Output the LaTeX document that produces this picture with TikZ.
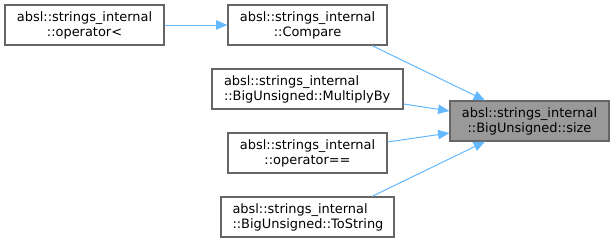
\documentclass[tikz,border=0pt]{standalone}
\usepackage{fontspec}
\setmainfont{DejaVu Sans}
\usetikzlibrary{arrows.meta,calc}
\definecolor{edgeblue}{HTML}{63B8FF}
\definecolor{boxline}{HTML}{666666}
\definecolor{curfill}{HTML}{999999}
\begin{document}
\begin{tikzpicture}[x=0.75pt,y=-0.75pt,
  fn/.style={draw=boxline,line width=0.9pt,fill=white,rectangle,inner sep=0pt,
    minimum height=30pt,align=center,font=\fontsize{9.7}{11.25}\selectfont},
  fnl/.style={fn,align=left,inner xsep=#1},
  cur/.style={fn,fill=curfill},
  call/.style={draw=edgeblue,line width=0.75pt,-{Triangle[length=8.5pt,width=7pt]}}]
\useasboundingbox (0,0) rectangle (615,243);
\node[fn,minimum width=119.25pt] (opl) at (84.5,25) {absl::strings\_internal\\::operator<};
\node[fn,minimum width=119.25pt] (cmp) at (307.5,25) {absl::strings\_internal\\::Compare};
\node[fnl=9pt,text width=125.25pt] (mul) at (307.5,89) {absl::strings\_internal\\::BigUnsigned::MultiplyBy};
\node[fn,minimum width=119.25pt] (eq) at (307.5,153) {absl::strings\_internal\\::operator==};
\node[fnl=8.6pt,text width=112.5pt] (tos) at (307.5,217) {absl::strings\_internal\\::BigUnsigned::ToString};
\node[cur,minimum width=119.25pt] (size) at (529.5,121) {absl::strings\_internal\\::BigUnsigned::size};
\draw[call] (opl.east) -- (cmp.west);
\draw[call] ($(cmp.south)+(64.5,0)$) -- ($(size.north)+(-44.5,0)$);
\draw[call] ($(mul.east)+(0,15)$) -- ($(size.west)+(0,-10)$);
\draw[call] ($(eq.east)+(0,-11)$) -- ($(size.west)+(0,12)$);
\draw[call] ($(tos.north)+(64.5,0)$) -- ($(size.south)+(-44.5,0)$);
\end{tikzpicture}
\end{document}
